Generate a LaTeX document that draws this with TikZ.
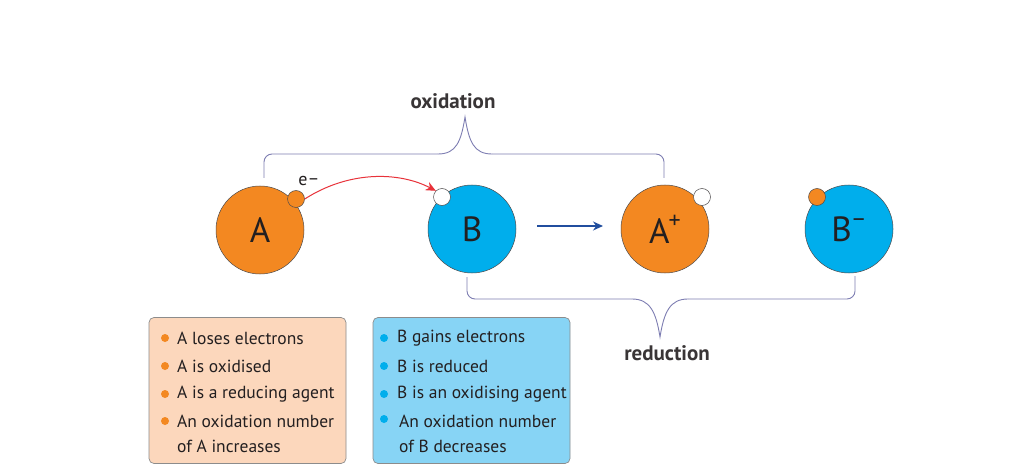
\documentclass[tikz,border=0pt]{standalone}
\usepackage{fontspec}
\setmainfont{PT Sans}
\usetikzlibrary{arrows.meta}
\definecolor{orng}{RGB}{243,136,33}
\definecolor{cyanb}{RGB}{0,174,236}
\definecolor{peach}{RGB}{252,215,188}
\definecolor{lblue}{RGB}{135,212,245}
\definecolor{brk}{RGB}{125,125,178}
\definecolor{darkb}{RGB}{33,78,158}
\definecolor{redarr}{RGB}{232,50,58}
\definecolor{txt}{RGB}{35,31,32}
\newcommand{\supch}[1]{\raisebox{0.42em}{\fontsize{24}{24}\selectfont #1}}
\tikzset{
  atom/.style={circle, draw=txt!80, line width=0.5pt, minimum size=88pt, inner sep=0pt, font=\fontsize{35}{35}\selectfont, text=txt},
  elec/.style={circle, draw=txt!80, line width=0.5pt, minimum size=17pt, inner sep=0pt},
  bracket/.style={draw=brk, line width=0.9pt},
  infobox/.style={rounded corners=5pt, draw=black!45, line width=0.7pt},
  itemtxt/.style={anchor=west, font=\fontsize{17.5}{18}\selectfont, text=txt, inner sep=0pt},
  bul/.style={circle, inner sep=0pt, minimum size=8pt},
  lbl/.style={font=\fontsize{21}{21}\bfseries\selectfont, text=txt!90}
}
\begin{document}
\begin{tikzpicture}[x=1pt,y=-1pt]
\useasboundingbox[fill=white] (0,0) rectangle (1024,470);

% atoms
\node[atom, fill=orng] (A) at (260,230) {A};
\node[atom, fill=cyanb] (B) at (472,229) {B};
\node[atom, fill=orng] (Ap) at (665,229) {A\kern-1pt\supch{+}};
\node[atom, fill=cyanb] (Bm) at (849,229) {B\kern-1pt\supch{\textendash}};

% electrons / holes
\node[elec, fill=orng] (e1) at (296,199) {};
\node[elec, fill=white] (h1) at (442,197) {};
\node[elec, fill=white] (h2) at (702,197) {};
\node[elec, fill=orng] (e2) at (817,197) {};

\node[font=\fontsize{18}{18}\selectfont, text=txt] (elabel) at (309,181) {e\raisebox{0.15ex}{\textendash}};

% red arrow
\draw[redarr, line width=1pt, -{Stealth[length=10pt,width=9pt]}]
  (e1.east) .. controls (350,170) and (400,172) .. (h1.north west);

% blue arrow
\coordinate (b1) at (537,226);
\coordinate (b2) at (603,226);
\draw[darkb, line width=1.3pt, -{Stealth[length=10pt,width=9pt]}] (b1) -- (b2);

% oxidation bracket
\coordinate (ox1) at (264,178);
\coordinate (ox2) at (664,178);
\coordinate (oxp) at (465,117);
\draw[bracket, rounded corners=8pt] (ox1) -- (264,154) -- (438,154);
\draw[bracket] (438,154) .. controls (456,154) and (461,142) .. (oxp) .. controls (469,142) and (474,154) .. (492,154);
\draw[bracket, rounded corners=8pt] (492,154) -- (664,154) -- (ox2);
\node[lbl] (oxl) at (453,101) {oxidation};

% reduction bracket
\coordinate (rd1) at (467,277);
\coordinate (rd2) at (855,276);
\coordinate (rdp) at (660,337);
\draw[bracket, rounded corners=8pt] (rd1) -- (467,299) -- (632,299);
\draw[bracket] (632,299) .. controls (650,299) and (656,312) .. (rdp) .. controls (664,312) and (670,299) .. (688,299);
\draw[bracket, rounded corners=8pt] (688,299) -- (855,299) -- (rd2);
\node[lbl] (rdl) at (667,353) {reduction};

% boxes
\node[infobox, fill=peach, minimum width=197pt, minimum height=146pt, inner sep=0pt] (boxA) at (247.5,390.5) {};
\node[infobox, fill=lblue, minimum width=197pt, minimum height=146pt, inner sep=0pt] (boxB) at (471.5,390.5) {};

% box A items
\foreach \yy/\tx [count=\i] in {338/A loses electrons, 366/A is oxidised, 394/A is a reducing agent, 421/An oxidation number} {
  \node[bul, fill=orng] (ba\i) at (165,\yy) {};
  \node[itemtxt] (ta\i) at (177,\yy) {\tx};
}
\node[itemtxt] (ta5) at (177,446) {of A increases};

% box B items
\foreach \yy/\tx [count=\i] in {338/B gains electrons, 366/B is reduced, 394/B is an oxidising agent} {
  \node[bul, fill=cyanb] (bb\i) at (384,\yy) {};
  \node[itemtxt] (tb\i) at (397,\yy) {\tx};
}
\node[bul, fill=cyanb] (bb4) at (384,419) {};
\node[itemtxt] (tb4) at (399,421) {An oxidation number};
\node[itemtxt] (tb5) at (399,446) {of B decreases};
\end{tikzpicture}
\end{document}
